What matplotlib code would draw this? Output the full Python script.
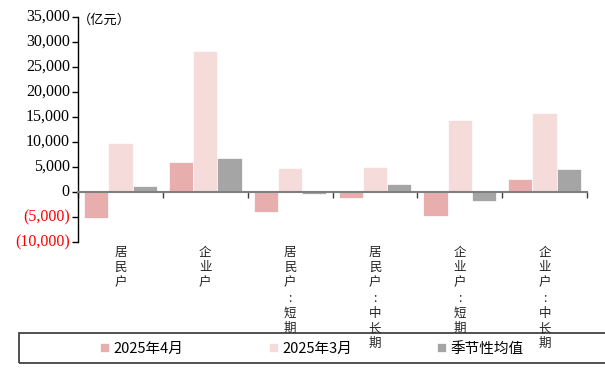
import numpy as np
import matplotlib
matplotlib.use("Agg")
import matplotlib.pyplot as plt
from matplotlib.patches import Rectangle
from matplotlib.transforms import blended_transform_factory
from matplotlib.font_manager import FontProperties

plt.rcParams["font.family"] = ["Noto Sans CJK SC", "DejaVu Sans"]
plt.rcParams["font.serif"] = ["Liberation Serif", "DejaVu Serif"]

# categories (one character per line, like the original)
categories = ["居民户", "企业户", "居民户:短期", "居民户:中长期", "企业户:短期", "企业户:中长期"]
apr_2025 = [-5200, 6000, -4000, -1200, -4800, 2600]
mar_2025 = [9800, 28200, 4800, 5000, 14400, 15800]
seasonal = [1200, 6800, -300, 1600, -1800, 4600]
series_names = ["2025年4月", "2025年3月", "季节性均值"]
colors = ["#E8AEAE", "#F6DBDB", "#A5A5A5"]

yticks = [-10000, -5000, 0, 5000, 10000, 15000, 20000, 25000, 30000, 35000]

fig = plt.figure(figsize=(6.05, 3.74), dpi=100)
ax = fig.add_axes([78 / 605, 1 - 242 / 374, (587 - 78) / 605, (242 - 17) / 374])

x = np.arange(len(categories)) + 0.5
w = 0.285
for i, vals in enumerate([apr_2025, mar_2025, seasonal]):
    ax.bar(x + (i - 1) * w, vals, width=w, color=colors[i], edgecolor="white",
           linewidth=0.5, label=series_names[i], zorder=2)

ax.set_xlim(0, len(categories))
ax.set_ylim(-10000, 35000)

# axes styling
ax.spines["top"].set_visible(False)
ax.spines["right"].set_visible(False)
ax.spines["bottom"].set_position(("data", 0))
ax.spines["bottom"].set_color("#7F7F7F")
ax.spines["bottom"].set_linewidth(1.5)
ax.spines["bottom"].set_zorder(3)
ax.spines["left"].set_linewidth(1.0)

ax.set_xticks(np.arange(len(categories) + 1))
ax.set_xticklabels([])
ax.tick_params(axis="x", direction="out", length=4, width=1, color="#404040")

ax.set_yticks(yticks)
ax.set_yticklabels([])
ax.tick_params(axis="y", direction="out", length=4, width=1)

# y tick labels drawn as text so the serif font sticks
ytrans = blended_transform_factory(ax.transAxes, ax.transData)
for v in yticks:
    s = f"{abs(v):,}"
    s = f"({s})" if v < 0 else s
    ax.text(-0.016, v, s, transform=ytrans, ha="right", va="center",
            fontfamily="serif", fontsize=11.5,
            color="red" if v < 0 else "black", clip_on=False)

# unit label
ax.text(0.0, 0.985, "（亿元）", transform=ax.transAxes, fontsize=9.5,
        ha="left", va="center")

# vertical category labels
trans = blended_transform_factory(ax.transData, fig.transFigure)
for xi, cat in zip(x, categories):
    ax.text(xi, 1 - 246 / 374, "\n".join(cat), transform=trans, fontsize=9,
            ha="center", va="top", multialignment="center", linespacing=1.22,
            color="#222222", zorder=7)

# legend with box
fig.patches.append(Rectangle((19 / 605, 1 - 363 / 374), 1.0, 30 / 374,
                             transform=fig.transFigure, fill=False,
                             edgecolor="#333333", linewidth=1.2, zorder=5))
handles, lbls = ax.get_legend_handles_labels()
leg = fig.legend(handles, lbls, loc="center", bbox_to_anchor=(312 / 605, 1 - 349 / 374),
                 ncol=3, frameon=False, fontsize=10.5, handlelength=0.6,
                 handleheight=0.6, handletextpad=0.3, columnspacing=5.87)
leg.set_zorder(6)

fig.savefig("out.png", dpi=100)
